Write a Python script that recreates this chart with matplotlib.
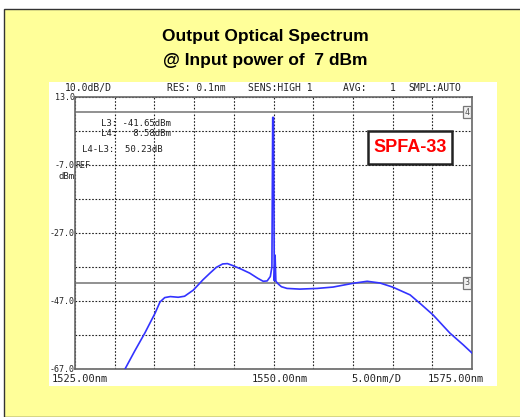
import matplotlib
matplotlib.use("Agg")
import matplotlib.pyplot as plt
from matplotlib.patches import Rectangle
import numpy as np

# spectrum trace (nm, dBm)
wavelength = [1531.3, 1532.5, 1533.8, 1535.1, 1535.7, 1536.3, 1537.0, 1538.0,
              1538.8, 1539.9, 1541.1, 1542.0, 1542.8, 1543.6, 1544.2, 1544.9,
              1546.0, 1547.0, 1548.0, 1548.7, 1549.2, 1549.6, 1549.8, 1549.9,
              1550.0, 1550.1, 1550.2, 1550.3, 1550.6, 1551.0, 1551.7, 1553.3,
              1555.5, 1557.5, 1560.0, 1561.8, 1563.4, 1565.0, 1567.2, 1568.6,
              1570.1, 1572.2, 1573.9, 1575.0]
power = [-67.0, -61.8, -56.4, -50.5, -47.3, -46.0, -45.7, -45.9,
         -45.6, -43.8, -40.8, -38.8, -37.1, -36.1, -36.0, -36.6,
         -37.7, -38.8, -40.3, -41.2, -41.1, -39.8, -37.0, 7.0,
         7.0, -41.0, -33.5, -41.2, -42.0, -42.8, -43.3, -43.5,
         -43.3, -42.9, -41.8, -41.2, -41.7, -42.9, -45.2, -48.0,
         -51.1, -56.4, -59.9, -62.3]

L3 = -41.65
L4 = 8.58

y_ticks = [13, 3, -7, -17, -27, -37, -47, -57, -67]
y_labels = ["13.0", "", "-7.0", "", "-27.0", "", "-47.0", "", "-67.0"]
x_ticks = np.arange(1525, 1576, 5)

header = [("10.0dB/D", 65), ("RES: 0.1nm", 167), ("SENS:HIGH 1", 248),
          ("AVG:    1", 343), ("SMPL:AUTO", 408)]
bottom_labels = [("1525.00nm", -0.058), ("1550.00nm", 0.446),
                 ("5.00nm/D", 0.695), ("1575.00nm", 0.889)]

W, H = 520, 417
mono = "DejaVu Sans Mono"
fig = plt.figure(figsize=(W / 100, H / 100), dpi=100, facecolor="white")

# yellow slide background with thin border
fig.patches.append(Rectangle((4 / W, 0), 1.0, 1 - 9 / H, transform=fig.transFigure,
                             facecolor="#FFFF99", edgecolor="#333333", lw=1.0,
                             zorder=-2))
# white instrument screen
fig.patches.append(Rectangle((49 / W, 1 - 386 / H), 448 / W, 304 / H,
                             transform=fig.transFigure, facecolor="white",
                             edgecolor="none", zorder=-1))

fig.text(265 / W, 1 - 37 / H, "Output Optical Spectrum", ha="center", va="center",
         fontsize=12.5, fontweight="bold", family="Liberation Sans")
fig.text(265 / W, 1 - 60 / H, "@ Input power of  7 dBm", ha="center", va="center",
         fontsize=12.5, fontweight="bold", family="Liberation Sans")

for txt, px in header:
    fig.text(px / W, 1 - 88 / H, txt, ha="left", va="center", fontsize=7,
             family=mono, color="#222222")

ax = fig.add_axes([75 / W, 1 - 369 / H, 397 / W, 272 / H])
ax.set_facecolor("white")
ax.set_xlim(1525, 1575)
ax.set_ylim(-67, 13)
ax.set_yticks(y_ticks)
ax.set_yticklabels(y_labels, family=mono, fontsize=6, color="#222222")
ax.set_xticks(x_ticks)
ax.set_xticklabels([])
ax.tick_params(length=0, pad=0)
ax.grid(True, color="#222222", linestyle=(0, (1.5, 1.5)), linewidth=0.8)
for s in ax.spines.values():
    s.set_color("#666666")
    s.set_linewidth(1.2)

# marker lines
for val, tag in [(L4, "4"), (L3, "3")]:
    ax.axhline(val, color="#888888", lw=1.3, zorder=2)
    ax.text(0.988, val, tag, transform=ax.get_yaxis_transform(), ha="center",
            va="center", fontsize=6, family=mono, color="#555555",
            bbox=dict(boxstyle="square,pad=0.2", facecolor="#F2F2F2",
                      edgecolor="#777777", lw=0.9), zorder=4)

ax.plot(wavelength, power, color="#3333FF", lw=1.2, zorder=3)

ax.text(0, -7, "REF", transform=ax.get_yaxis_transform(), ha="left", va="center",
        fontsize=6, family=mono, color="#222222")
ax.text(0, -10.5, "dBm", transform=ax.get_yaxis_transform(), ha="right",
        va="center", fontsize=6.5, family=mono, color="#222222")

# marker readout
ax.text((101 - 75) / 397, (369 - 124) / 272, "L3: -41.65dBm", transform=ax.transAxes,
        ha="left", va="center", fontsize=6.5, family=mono, color="#222222")
ax.text((101 - 75) / 397, (369 - 133) / 272, "L4:   8.58dBm", transform=ax.transAxes,
        ha="left", va="center", fontsize=6.5, family=mono, color="#222222")
ax.text((82 - 75) / 397, (369 - 149) / 272, "L4-L3:  50.23dB", transform=ax.transAxes,
        ha="left", va="center", fontsize=6.5, family=mono, color="#222222")

# device label box
ax.add_patch(Rectangle((0.738, 0.754), 0.212, 0.121, transform=ax.transAxes,
                       facecolor="white", edgecolor="#222222", lw=1.8, zorder=5))
ax.text(0.844, 0.8145, "SPFA-33", transform=ax.transAxes, ha="center", va="center",
        fontsize=13, fontweight="bold", color="#FF0000", family="Liberation Sans",
        zorder=6)

for txt, fx in bottom_labels:
    ax.text(fx, -0.037, txt, transform=ax.transAxes, ha="left", va="center",
            fontsize=7.5, family=mono, color="#222222")

fig.savefig("out.png", dpi=100, facecolor=fig.get_facecolor())
